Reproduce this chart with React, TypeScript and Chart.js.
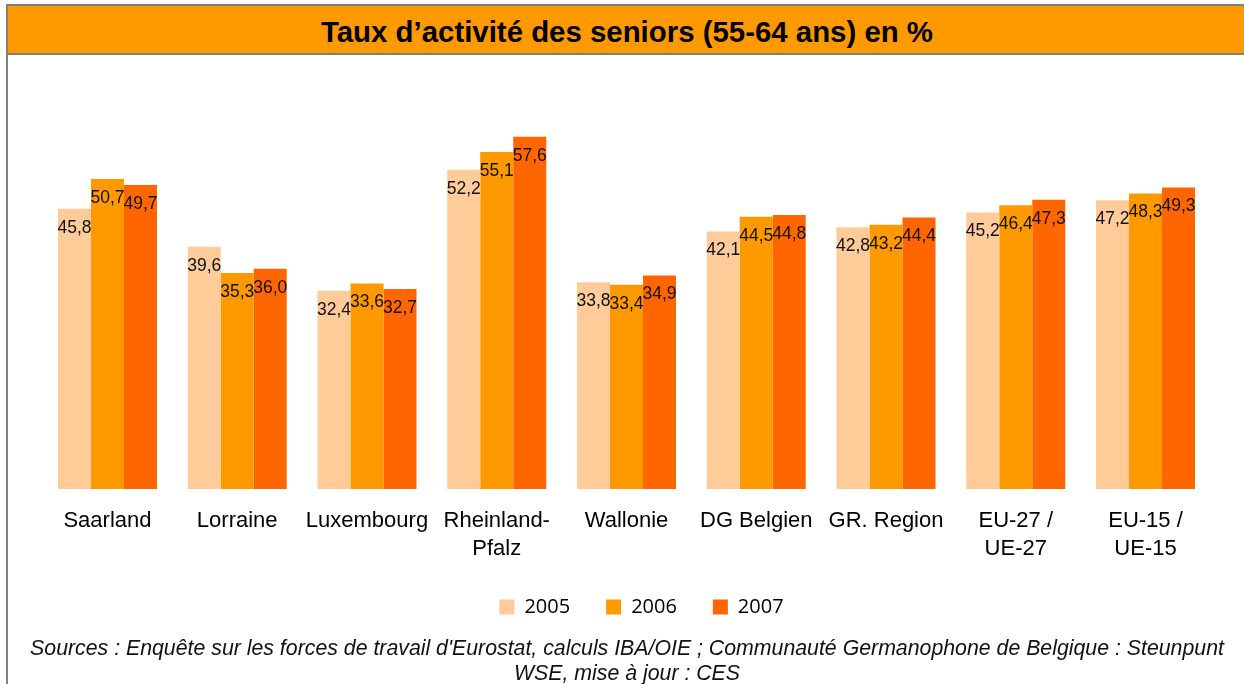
import React, { useEffect, useRef } from 'react';
import { Chart, registerables } from 'chart.js';

Chart.register(...registerables);

const categories: string[][] = [
  ['Saarland'],
  ['Lorraine'],
  ['Luxembourg'],
  ['Rheinland-', 'Pfalz'],
  ['Wallonie'],
  ['DG Belgien'],
  ['GR. Region'],
  ['EU-27 /', 'UE-27'],
  ['EU-15 /', 'UE-15'],
];
const seriesNames = ['2005', '2006', '2007'];
const values2005 = [45.8, 39.6, 32.4, 52.2, 33.8, 42.1, 42.8, 45.2, 47.2];
const values2006 = [50.7, 35.3, 33.6, 55.1, 33.4, 44.5, 43.2, 46.4, 48.3];
const values2007 = [49.7, 36.0, 32.7, 57.6, 34.9, 44.8, 44.4, 47.3, 49.3];
const seriesColors = ['#FFCC99', '#FF9900', '#FF6600'];
const titleText = 'Taux d’activité des seniors (55-64 ans) en %';
const sourceLines = [
  "Sources : Enquête sur les forces de travail d'Eurostat, calculs IBA/OIE ; Communauté Germanophone de Belgique : Steunpunt",
  'WSE, mise à jour : CES',
];

const valueLabels = {
  id: 'valueLabels',
  afterDatasetsDraw(chart: any) {
    const ctx = chart.ctx;
    ctx.save();
    ctx.font = '17.5px "Liberation Sans", Arial, sans-serif';
    ctx.fillStyle = '#111';
    ctx.textAlign = 'center';
    ctx.textBaseline = 'middle';
    chart.data.datasets.forEach((ds: any, i: number) => {
      const meta = chart.getDatasetMeta(i);
      meta.data.forEach((bar: any, j: number) => {
        const v = ds.data[j] as number;
        ctx.fillText(v.toFixed(1).replace('.', ','), bar.x, bar.y + 19);
      });
    });
    ctx.restore();
  },
};

const legendShift = {
  id: 'legendShift',
  afterLayout(chart: any) {
    if (chart.legend) {
      chart.legend.left += 15;
      chart.legend.right += 15;
    }
  },
};

export default function App() {
  const canvasRef = useRef<HTMLCanvasElement | null>(null);

  useEffect(() => {
    const canvas = canvasRef.current;
    if (!canvas) return;
    const allValues = [values2005, values2006, values2007];
    const chart = new Chart(canvas, {
      type: 'bar',
      data: {
        labels: categories,
        datasets: seriesNames.map((name, i) => ({
          label: name,
          data: allValues[i],
          backgroundColor: seriesColors[i],
          borderWidth: 0,
          categoryPercentage: 0.763,
          barPercentage: 1,
        })),
      },
      options: {
        responsive: false,
        animation: false,
        layout: { padding: { top: 122, left: 42.6, right: 33.6, bottom: 57 } },
        scales: {
          x: {
            grid: { display: false, drawTicks: false },
            border: { display: false },
            ticks: {
              color: '#000',
              font: { family: '"Liberation Sans", Arial, sans-serif', size: 22, lineHeight: 28 / 22 },
              padding: 18,
              autoSkip: false,
              maxRotation: 0,
              minRotation: 0,
            },
            afterFit: (scale: any) => {
              scale.height = 72;
            },
          },
          y: {
            display: false,
            min: 0,
            max: 60,
          },
        },
        plugins: {
          legend: {
            position: 'bottom',
            labels: {
              boxWidth: 15,
              boxHeight: 15,
              padding: 36,
              color: '#000',
              font: { family: '"Open Sans", sans-serif', size: 20 },
            },
          },
          tooltip: { enabled: false },
        },
      },
      plugins: [valueLabels, legendShift],
    });
    return () => chart.destroy();
  }, []);

  return (
    <div
      style={{
        position: 'absolute',
        left: 0,
        top: 0,
        width: 1244,
        height: 684,
        overflow: 'hidden',
        background: '#fff',
      }}
    >
      <div
        style={{
          position: 'absolute',
          left: 6,
          top: 4,
          width: 1242,
          height: 720,
          boxSizing: 'border-box',
          border: '2px solid #808080',
        }}
      />
      <div
        style={{
          position: 'absolute',
          left: 8,
          top: 6,
          width: 1238,
          height: 47,
          boxSizing: 'content-box',
          background: '#FF9900',
          borderBottom: '2px solid #808080',
          fontFamily: '"Liberation Sans", Arial, sans-serif',
          fontWeight: 'bold',
          fontSize: 29.4,
          lineHeight: '51px',
          textAlign: 'center',
          color: '#000',
          whiteSpace: 'nowrap',
        }}
      >
        {titleText}
      </div>
      <canvas
        ref={canvasRef}
        width={1244}
        height={684}
        style={{ position: 'absolute', left: 0, top: 0, width: 1244, height: 684 }}
      />
      <div
        style={{
          position: 'absolute',
          left: 8,
          top: 636,
          width: 1238,
          textAlign: 'center',
          fontFamily: '"Liberation Sans", Arial, sans-serif',
          fontStyle: 'italic',
          fontSize: 21.3,
          lineHeight: '25px',
          color: '#111',
        }}
      >
        {sourceLines.map((l, i) => (
          <div key={i} style={{ whiteSpace: 'nowrap' }}>
            {l}
          </div>
        ))}
      </div>
    </div>
  );
}
